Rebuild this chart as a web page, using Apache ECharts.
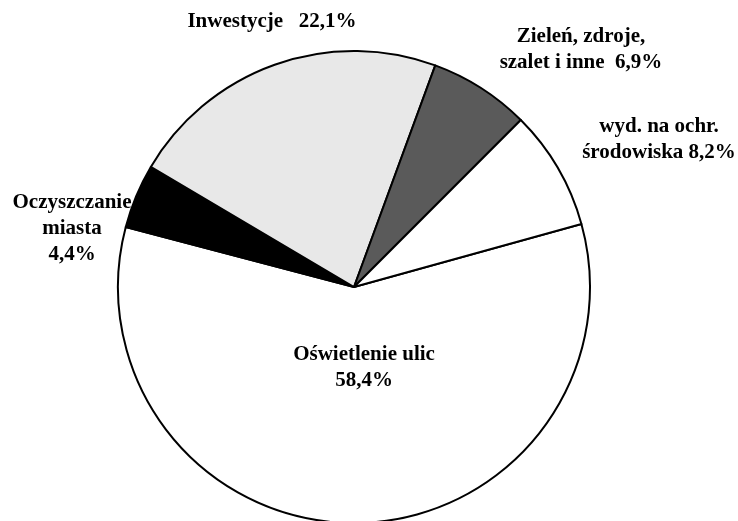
<!DOCTYPE html>
<html>
<head>
<meta charset="utf-8">
<script src="https://cdn.jsdelivr.net/npm/echarts@6/dist/echarts.min.js"></script>
<style>
html,body{margin:0;padding:0;background:#fff;}
#c{width:738px;height:521px;}
</style>
</head>
<body>
<div id="c"></div>
<script>
// Data
const categories = ['Oświetlenie ulic', 'Oczyszczanie miasta', 'Inwestycje', 'Zieleń, zdroje, szalet i inne', 'wyd. na ochr. środowiska'];
const values = [58.4, 4.4, 22.1, 6.9, 8.2];
const labelTexts = [
  'Oświetlenie ulic\n58,4%',
  'Oczyszczanie\nmiasta\n4,4%',
  'Inwestycje   22,1%',
  'Zieleń, zdroje,\nszalet i inne  6,9%',
  'wyd. na ochr.\nśrodowiska 8,2%'
];

// Styles
const colors = ['#ffffff', '#000000', '#e8e8e8', '#5a5a5a', '#ffffff'];
const labelPos = [[364, 368], [72, 229], [272, 22], [581, 50], [659, 140]];

const chart = echarts.init(document.getElementById('c'), null, {renderer: 'canvas'});
chart.setOption({
  animation: false,
  backgroundColor: '#ffffff',
  series: [{
    type: 'pie',
    center: [354, 287],
    radius: 236,
    startAngle: 15.5,
    clockwise: true,
    avoidLabelOverlap: false,
    data: categories.map((c, i) => ({
      name: c,
      value: values[i],
      itemStyle: {color: colors[i]}
    })),
    itemStyle: {borderColor: '#000', borderWidth: 2},
    label: {
      show: true,
      position: 'outside',
      formatter: p => labelTexts[p.dataIndex],
      fontFamily: '"Liberation Serif", "Times New Roman", serif',
      fontWeight: 'bold',
      fontSize: 21,
      lineHeight: 26,
      color: '#000',
      align: 'center'
    },
    labelLine: {show: false},
    labelLayout: p => ({
      x: labelPos[p.dataIndex][0],
      y: labelPos[p.dataIndex][1],
      align: 'center',
      verticalAlign: 'middle'
    }),
    emphasis: {disabled: true}
  }]
});
</script>
</body>
</html>
